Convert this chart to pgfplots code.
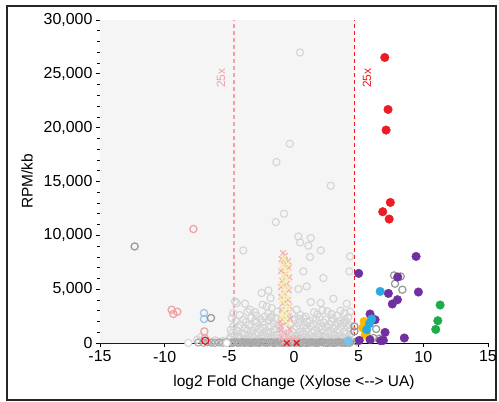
\documentclass[border=0pt]{standalone}
\usepackage{pgfplots}
\pgfplotsset{compat=1.18}
\usepackage{fontspec}
\setmainfont{Liberation Sans}

\definecolor{shade}{RGB}{245,245,245}
\definecolor{lgray}{RGB}{212,212,212}
\definecolor{mgray}{RGB}{168,168,168}
\definecolor{dgray}{RGB}{150,150,150}
\definecolor{pinkc}{RGB}{240,160,165}
\definecolor{lblue}{RGB}{155,195,230}
\definecolor{redc}{RGB}{237,28,36}
\definecolor{purp}{RGB}{112,48,160}
\definecolor{grn}{RGB}{30,172,75}
\definecolor{cyanc}{RGB}{41,171,226}
\definecolor{lcyan}{RGB}{120,195,235}
\definecolor{orng}{RGB}{255,185,0}
\definecolor{pinkx}{RGB}{244,176,180}
\definecolor{yelx}{RGB}{246,240,170}
\definecolor{line25}{RGB}{242,160,166}

\begin{document}
\begin{tikzpicture}
\useasboundingbox (-100bp,-59bp) rectangle (399bp,343bp);
\draw[line width=1.4bp, black!85] (-93bp,-57bp) rectangle (396bp,337bp);
\begin{axis}[
    at={(0,0)}, anchor=south west,
    scale only axis, width=388bp, height=323bp,
    xmin=-15, xmax=15, ymin=0, ymax=30000,
    axis x line=bottom, axis y line=left,
    axis line style={-},
    y axis line style={gray!55},
    x axis line style={black},
    xtick={-15,-10,...,15},
    ytick={0,5000,...,30000},
    minor y tick num=4,
    tick align=outside,
    major tick length=4bp,
    minor tick length=2.5bp,
    tick style={black, line width=0.7bp},
    scaled y ticks=false,
    /pgf/number format/1000 sep={,},
    /pgf/number format/assume math mode=true,
    tick label style={font=\fontsize{16}{18}\selectfont},
    xticklabel style={yshift=-0.5bp},
    xlabel={log2 Fold Change (Xylose <{-}{-}> UA)},
    ylabel={RPM/kb},
    every axis x label/.style={at={(axis description cs:0.5,-0.121)}, anchor=center, font=\fontsize{15.5}{18}\selectfont},
    every axis y label/.style={at={(axis description cs:-0.188,0.5)}, rotate=90, anchor=center, font=\fontsize{15.5}{18}\selectfont},
    clip=false,
]
% shaded non-significant region
\addplot[fill=shade, draw=none, forget plot] coordinates {(-15,0) (4.644,0) (4.644,30000) (-15,30000)} \closedcycle;
% 25x threshold lines
\addplot[line25, line width=1.2bp, dash pattern=on 4bp off 3bp] coordinates {(-4.644,0) (-4.644,30000)};
\addplot[redc, line width=1.1bp, dash pattern=on 4bp off 3bp] coordinates {(4.644,0) (4.644,30000)};
\node[rotate=90, text=line25, font=\fontsize{12}{14}\selectfont] at (axis cs:-5.64,24600) {25x};
\node[rotate=90, text=redc, font=\fontsize{12}{14}\selectfont] at (axis cs:5.65,24600) {25x};

% light gray genes
\addplot[only marks, mark=o, mark size=3.6bp, lgray, mark options={line width=1.1bp}] coordinates {
(0.47,26983) (-0.33,18505) (-1.36,16806) (2.84,14605) (-0.77,12006) (-1.41,11235)
(-3.92,8598) (0.34,9898) (1.30,9749) (0.47,9341) (1.11,9034) (2.07,8598) (1.24,7985)
(4.33,8041) (0.72,6648) (4.28,6648) (2.27,6035) (0.98,5255) (0.34,5014)
(3.04,4113) (2.07,3714) (1.30,3807) (4.08,3649) (2.58,2934)
(-1.98,4884) (-2.50,4642) (-1.81,4178) (-4.56,3862) (-3.79,3649) (-2.42,3556)
(-1.72,3250) (-3.40,3090) (-2.11,3400) (-4.43,3714) (-3.01,2878)
(-4.69,2785) (-2.24,2470) (-1.72,2470) (-0.15,2700) (0.50,2600) (1.55,2850) (3.30,2550) (3.90,2780)
(-4.80,2300) (-3.92,2163) (-3.30,2350) (-2.60,2200) (-1.95,2100) (-1.40,2250) (0.05,2150) (0.75,2300)
(1.20,2050) (1.95,2400) (2.45,2150) (3.00,2300) (3.60,2050) (3.95,2163) (4.20,2400)
(-4.69,1541) (-4.17,1700) (-3.50,1650) (-2.90,1900) (-2.30,1700) (-1.60,1850) (-0.30,1750) (0.30,1900)
(0.90,1650) (1.50,1800) (2.10,1550) (2.70,1750) (3.20,1600) (3.80,1850) (4.30,1650)
(-4.90,1200) (-4.40,1100) (-3.80,1350) (-3.20,1150) (-2.70,1300) (-2.10,1100) (-1.50,1250) (0.00,1300)
(0.50,1050) (1.00,1350) (1.60,1150) (2.20,1300) (2.80,1100) (3.40,1250) (3.90,1050) (4.40,1235)
(-4.60,750) (-4.00,900) (-3.50,650) (-3.00,850) (-2.50,700) (-2.00,900) (-1.60,600) (-0.40,800)
(0.20,650) (0.70,900) (1.20,700) (1.80,850) (2.30,600) (2.90,800) (3.50,650) (4.00,850)
(-5.00,350) (-4.70,150) (-4.30,420) (-4.00,200) (-3.70,380) (-3.40,120) (-3.10,450) (-2.80,250)
(-2.50,400) (-2.20,150) (-1.90,350) (-1.60,200) (-1.30,450) (-0.20,300) (0.10,150) (0.40,420)
(0.70,250) (1.00,380) (1.30,130) (1.60,320) (1.90,450) (2.20,200) (2.50,350) (2.80,120)
(3.10,420) (3.40,250) (3.70,380) (4.00,150) (4.30,300)
(-7.50,300) (-7.20,550) (-6.60,150) (-6.10,250) (-5.80,100) (-5.50,200) (-5.30,60) (-6.30,80)
(-4.20,2600) (-3.60,2900) (-2.90,2550) (-2.00,2750) (-1.30,2900) (0.20,3100) (0.90,2450) (1.80,2650)
(2.20,3050) (2.90,2700) (3.60,3000) (4.35,2900)
(-4.50,2050) (-3.70,1950) (-3.00,2100) (-2.40,1950) (-1.80,2350) (-1.20,1650) (0.40,2250) (1.00,2000)
(1.70,2200) (2.30,1900) (2.90,2000) (3.40,1800) (4.00,1950)
(-4.30,1450) (-3.60,1200) (-3.00,1500) (-2.40,1400) (-1.80,1550) (-1.10,1350) (0.20,1500) (0.70,1400)
(1.30,1550) (1.90,1400) (2.50,1450) (3.10,1350) (3.60,1500) (4.20,1450)
(-4.80,900) (-4.30,600) (-3.80,800) (-3.20,550) (-2.80,1000) (-2.20,650) (-1.80,1050) (-1.30,800)
(-1.10,500) (-0.10,1000) (0.40,700) (0.90,550) (1.40,950) (2.00,650) (2.60,1000) (3.20,700)
(3.80,550) (4.30,800)
(-4.90,550) (-4.50,280) (-4.10,500) (-3.55,300) (-2.95,200) (-2.35,520) (-1.75,420) (-1.15,250)
(0.25,550) (0.55,300) (0.85,500) (1.15,260) (1.45,520) (1.75,170) (2.05,330) (2.35,500)
(2.65,220) (2.95,360) (3.25,180) (3.55,480) (3.85,280) (4.15,420) (4.45,150)
};
% dense base band
\addplot[only marks, mark=o, mark size=3.6bp, mgray, mark options={line width=1.1bp}] coordinates {
(-7.4,40) (-7.0,20) (-6.7,60) (-6.4,30) (-6.1,10) (-5.8,50) (-5.5,20) (-5.2,70) (-4.9,30) (-4.6,60)
(-4.3,20) (-4.0,80) (-3.7,40) (-3.4,10) (-3.1,60) (-2.8,30) (-2.5,90) (-2.2,20) (-1.9,50) (-1.6,10)
(-1.3,70) (-1.0,30) (-0.7,60) (-0.4,20) (-0.1,80) (0.2,40) (0.5,10) (0.8,70) (1.1,30) (1.4,60)
(1.7,20) (2.0,90) (2.3,40) (2.6,10) (2.9,50) (3.2,30) (3.5,70) (3.8,20) (4.1,50) (4.3,20)
(-4.75,10) (-4.45,50) (-4.15,30) (-3.85,10) (-3.55,60) (-3.25,20) (-2.95,40) (-2.65,10) (-2.35,50)
(-2.05,30) (-1.75,70) (-1.45,20) (-1.15,40) (-0.85,10) (-0.55,50) (-0.25,30) (0.05,10) (0.35,60)
(0.65,30) (0.95,10) (1.25,50) (1.55,40) (1.85,10) (2.15,60) (2.45,20) (2.75,40) (3.05,10) (3.35,50)
(3.65,30) (3.95,10) (4.25,60)
};
\addplot[only marks, mark=*, mark size=3.6bp, mark options={draw=lgray, fill=white, line width=1bp}] coordinates {
(-8.17,0) (-5.20,0)
};
% pink / yellow crosses
\addplot[only marks, mark=x, mark size=4bp, pinkx, mark options={line width=1.2bp}] coordinates {
(-0.85,8350) (-0.70,8100) (-0.95,7800) (-0.45,7600) (-0.80,7300) (-0.40,7000) (-1.00,6700)
(-0.65,6400) (-0.35,6100) (-0.90,5800) (-0.55,5500) (-1.00,5200) (-0.40,4900) (-0.75,4600)
(-1.00,4300) (-0.45,4000) (-0.85,3700) (-0.35,3400) (-0.95,3100) (-0.65,2800) (-0.40,2500)
(-0.90,2200) (-0.60,1900) (-1.00,1600) (-0.35,1300) (-0.80,1000) (-0.50,800) (-0.95,550)
(-0.35,350) (-0.75,150) (0.20,450) (0.05,200) (-1.05,2000) (-1.05,1200) (-0.30,2300)
};
\addplot[only marks, mark=x, mark size=4bp, yelx, mark options={line width=1.2bp}] coordinates {
(-0.80,7900) (-0.50,7400) (-0.95,7150) (-0.65,6900) (-0.40,6600) (-0.85,6300) (-0.55,6000)
(-0.75,5700) (-1.00,5400) (-0.40,5100) (-0.70,4800) (-0.90,4500) (-0.50,4200) (-0.95,3900)
(-0.65,3600) (-0.40,3300) (-0.80,3000) (-0.55,2700) (-0.95,2400) (-0.70,2100) (-0.45,1800)
};
\addplot[only marks, mark=x, mark size=4bp, redc, mark options={line width=1.4bp}] coordinates {
(-0.56,0) (0.21,0)
};
% left side open circles
\addplot[only marks, mark=o, mark size=3.6bp, pinkc, mark options={line width=1.2bp}] coordinates {
(-7.78,10585) (-9.46,3092) (-9.02,2906) (-9.33,2693) (-6.93,1077) (-6.90,450)
};
\addplot[only marks, mark=o, mark size=3.6bp, lblue, mark options={line width=1.2bp}] coordinates {
(-6.96,2785) (-6.96,2228)
};
\addplot[only marks, mark=o, mark size=3.6bp, dgray, mark options={line width=1.2bp}] coordinates {
(-12.32,8969) (-6.42,2321)
(7.74,6277) (8.25,6184) (7.81,5506) (8.38,4949) (6.35,1300) (4.67,1541) (4.67,1077)
(6.14,464) (4.85,150) (5.60,900) (6.60,400)
};
\addplot[only marks, mark=o, mark size=3.6bp, redc, mark options={line width=1.2bp}] coordinates {
(-6.86,214)
};
% right side filled
\addplot[only marks, mark=*, mark size=4.3bp, orng, mark options={draw=orng}] coordinates {
(5.42,2006) (5.31,1393) (5.50,770)
};
\addplot[only marks, mark=*, mark size=4.3bp, purp, mark options={draw=purp}] coordinates {
(9.44,8041) (5.00,6463) (8.02,6128) (7.30,4605) (9.62,4735) (8.00,4020) (7.60,3621)
(5.88,2693) (6.27,2163) (7.04,984) (8.53,464) (5.05,241) (5.88,306) (6.70,214) (6.91,241)
};
\addplot[only marks, mark=*, mark size=4.3bp, cyanc, mark options={draw=cyanc}] coordinates {
(6.66,4791) (6.01,2228) (5.83,1792) (5.62,1235)
};
\addplot[only marks, mark=*, mark size=4.3bp, lcyan, mark options={draw=lcyan}] coordinates {
(4.20,190)
};
\addplot[only marks, mark=*, mark size=4.3bp, grn, mark options={draw=grn}] coordinates {
(11.30,3528) (11.12,2070) (10.96,1263)
};
\addplot[only marks, mark=*, mark size=4.3bp, redc, mark options={draw=redc}] coordinates {
(7.02,26518) (7.27,21690) (7.12,19777) (7.45,13055) (6.86,12191) (7.36,11513)
};
\end{axis}
\end{tikzpicture}
\end{document}
